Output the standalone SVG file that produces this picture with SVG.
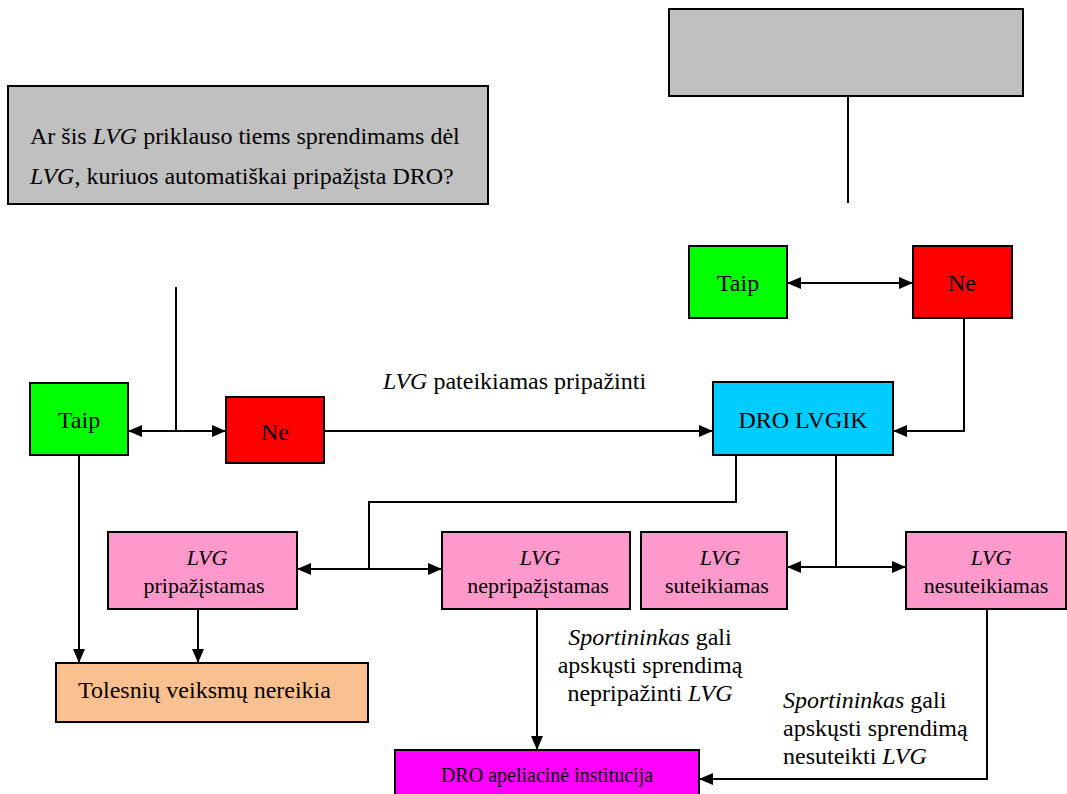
<svg xmlns="http://www.w3.org/2000/svg" width="1067" height="794" viewBox="0 0 1067 794">
<style>
.box{stroke:#000;stroke-width:2}
.t{font-family:"Liberation Serif","Times New Roman","DejaVu Serif",serif;font-size:24px;fill:#000}
.p{font-size:22px}
.c{text-anchor:middle}
.i{font-style:italic}
.ln{fill:none;stroke:#000;stroke-width:2}
</style>
<defs>
<marker id="ah" viewBox="0 0 14 12" refX="14" refY="6" markerWidth="14" markerHeight="12" markerUnits="userSpaceOnUse" orient="auto-start-reverse">
<path d="M0,0 L14,6 L0,12 Z" fill="#000"/>
</marker>
</defs>
<rect width="1067" height="794" fill="#fff"/>

<g id="connectors">
<line class="ln" x1="848" y1="96" x2="848" y2="203"/>
<line class="ln" x1="176" y1="287" x2="176" y2="431"/>
<line class="ln" x1="128" y1="431" x2="226" y2="431" marker-start="url(#ah)" marker-end="url(#ah)"/>
<line class="ln" x1="324" y1="431" x2="713" y2="431" marker-end="url(#ah)"/>
<line class="ln" x1="787" y1="283" x2="913" y2="283" marker-start="url(#ah)" marker-end="url(#ah)"/>
<polyline class="ln" points="964,318 964,431 893,431" marker-end="url(#ah)"/>
<polyline class="ln" points="736,455 736,502 369,502 369,569"/>
<line class="ln" x1="297" y1="569" x2="442" y2="569" marker-start="url(#ah)" marker-end="url(#ah)"/>
<line class="ln" x1="836" y1="455" x2="836" y2="567"/>
<line class="ln" x1="787" y1="567" x2="906" y2="567" marker-start="url(#ah)" marker-end="url(#ah)"/>
<line class="ln" x1="79" y1="455" x2="79" y2="663" marker-end="url(#ah)"/>
<line class="ln" x1="198" y1="609" x2="198" y2="663" marker-end="url(#ah)"/>
<line class="ln" x1="537" y1="609" x2="537" y2="750" marker-end="url(#ah)"/>
<polyline class="ln" points="987,609 987,779 699,779" marker-end="url(#ah)"/>
<text class="t" x="383" y="389"><tspan class="i">LVG</tspan> pateikiamas pripažinti</text>
<text class="t c" x="650" y="645"><tspan class="i">Sportininkas</tspan> gali</text>
<text class="t c" x="650" y="673">apskųsti sprendimą</text>
<text class="t c" x="650" y="701">nepripažinti <tspan class="i">LVG</tspan></text>
<text class="t" x="783" y="708"><tspan class="i">Sportininkas</tspan> gali</text>
<text class="t" x="783" y="736">apskųsti sprendimą</text>
<text class="t" x="783" y="764">nesuteikti <tspan class="i">LVG</tspan></text>
</g>

<g id="q1">
<rect class="box" x="8" y="86" width="480" height="118" fill="#C0C0C0"/>
<text class="t" x="30" y="144">Ar šis <tspan class="i">LVG</tspan> priklauso tiems sprendimams dėl</text>
<text class="t" x="30" y="184"><tspan class="i">LVG</tspan>, kuriuos automatiškai pripažįsta DRO?</text>
</g>
<g id="q2">
<rect class="box" x="669" y="9" width="354" height="87" fill="#C0C0C0"/>
</g>
<g id="taip1">
<rect class="box" x="30" y="383" width="98" height="72" fill="#00FF00"/>
<text class="t c" x="79" y="428">Taip</text>
</g>
<g id="ne1">
<rect class="box" x="226" y="397" width="98" height="66" fill="#FF0000"/>
<text class="t c" x="275" y="440">Ne</text>
</g>
<g id="taip2">
<rect class="box" x="689" y="246" width="98" height="72" fill="#00FF00"/>
<text class="t c" x="738" y="291">Taip</text>
</g>
<g id="ne2">
<rect class="box" x="913" y="246" width="99" height="72" fill="#FF0000"/>
<text class="t c" x="962" y="291">Ne</text>
</g>
<g id="dro">
<rect class="box" x="713" y="382" width="180" height="73" fill="#00CCFF"/>
<text class="t c" x="803" y="428">DRO LVGIK</text>
</g>
<g id="pripazistamas">
<rect class="box" x="108" y="532" width="189" height="77" fill="#FF99CC"/>
<text class="t p c i" x="207" y="565">LVG</text>
<text class="t p c" x="204" y="593">pripažįstamas</text>
</g>
<g id="nepripazistamas">
<rect class="box" x="442" y="532" width="188" height="77" fill="#FF99CC"/>
<text class="t p c i" x="540" y="565">LVG</text>
<text class="t p c" x="538" y="593">nepripažįstamas</text>
</g>
<g id="suteikiamas">
<rect class="box" x="641" y="532" width="146" height="77" fill="#FF99CC"/>
<text class="t p c i" x="720" y="565">LVG</text>
<text class="t p c" x="717" y="593">suteikiamas</text>
</g>
<g id="nesuteikiamas">
<rect class="box" x="906" y="532" width="160" height="77" fill="#FF99CC"/>
<text class="t p c i" x="991" y="565">LVG</text>
<text class="t p c" x="986" y="593">nesuteikiamas</text>
</g>
<g id="tolesniu">
<rect class="box" x="56" y="663" width="312" height="59" fill="#FAC090"/>
<text class="t" x="78" y="698">Tolesnių veiksmų nereikia</text>
</g>
<g id="apeliacine">
<rect class="box" x="395" y="750" width="304" height="50" fill="#FF00FF"/>
<text class="t c" x="547" y="782" style="font-size:20px">DRO apeliacinė institucija</text>
</g>
</svg>
